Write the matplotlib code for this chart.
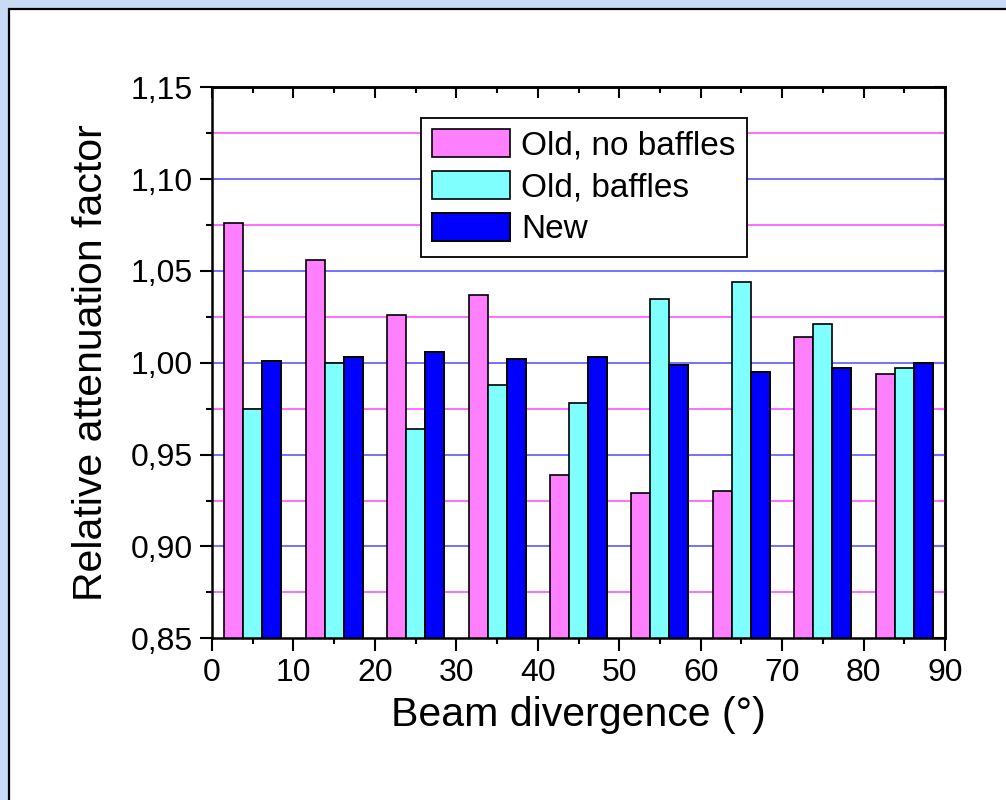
import matplotlib
matplotlib.use("Agg")
import matplotlib.pyplot as plt
import numpy as np
from matplotlib.patches import Rectangle
from matplotlib.ticker import MultipleLocator, FuncFormatter

plt.rcParams["font.family"] = ["Liberation Sans", "DejaVu Sans"]

# data
angles = [5, 15, 25, 35, 45, 55, 65, 75, 85]
old_no_baffles = [1.076, 1.056, 1.026, 1.037, 0.939, 0.929, 0.930, 1.014, 0.994]
old_baffles = [0.975, 1.000, 0.964, 0.988, 0.978, 1.035, 1.044, 1.021, 0.997]
new = [1.001, 1.003, 1.006, 1.002, 1.003, 0.999, 0.995, 0.997, 1.000]
series_names = ["Old, no baffles", "Old, baffles", "New"]
series_colors = ["#ff80ff", "#80ffff", "#0000ff"]

major_grid = [0.90, 0.95, 1.00, 1.05, 1.10]
minor_grid = [0.875, 0.925, 0.975, 1.025, 1.075, 1.125]

fig = plt.figure(figsize=(10.06, 8), dpi=100, facecolor="#c9daf6")
# white slide panel with black left/top border
fig.patches.append(Rectangle((9 / 1006, -0.1), 1.2, 0.1 + 791 / 800,
                             transform=fig.transFigure, facecolor="white",
                             edgecolor="black", linewidth=1.6, zorder=-10))

ax = fig.add_axes([212 / 1006, 1 - 638.3 / 800, 733 / 1006, 551 / 800])
ax.set_zorder(5)

for y in major_grid:
    ax.axhline(y, color="#7272ff", lw=1.4, zorder=1)
for y in minor_grid:
    ax.axhline(y, color="#ff6cff", lw=1.4, zorder=1)

w = 7 / 3
x = np.array(angles, dtype=float)
for i, (vals, name, col) in enumerate(zip([old_no_baffles, old_baffles, new],
                                          series_names, series_colors)):
    ax.bar(x + (i - 1) * w, vals, width=w, color=col, edgecolor="black",
           linewidth=1.4 if i == 2 else 1.2, label=name, zorder=2)

ax.set_xlim(0, 90)
ax.set_ylim(0.85, 1.15)
ax.xaxis.set_major_locator(MultipleLocator(10))
ax.xaxis.set_minor_locator(MultipleLocator(5))
ax.yaxis.set_major_locator(MultipleLocator(0.05))
ax.yaxis.set_minor_locator(MultipleLocator(0.025))
ax.yaxis.set_major_formatter(FuncFormatter(lambda v, p: f"{v:.2f}".replace(".", ",")))

ax.tick_params(which="major", direction="out", length=9, width=1.5,
               labelsize=23, pad=5)
ax.tick_params(which="minor", direction="out", length=4.5, width=1.5)
for s in ax.spines.values():
    s.set_linewidth(1.8)

top = ax.secondary_xaxis("top")
top.xaxis.set_major_locator(MultipleLocator(10))
top.xaxis.set_minor_locator(MultipleLocator(5))
top.tick_params(which="major", direction="in", length=8, width=1.5, labeltop=False)
top.tick_params(which="minor", direction="in", length=4.5, width=1.5)
top.spines["top"].set_linewidth(1.8)

right = ax.secondary_yaxis("right")
right.yaxis.set_major_locator(MultipleLocator(0.05))
right.yaxis.set_minor_locator(MultipleLocator(0.025))
right.tick_params(which="major", direction="in", length=8, width=1.5, labelright=False)
right.tick_params(which="minor", direction="in", length=4.5, width=1.5)
right.spines["right"].set_linewidth(1.8)

ax.set_xlabel("Beam divergence (°)", fontsize=29.5, labelpad=6)
ax.set_ylabel("Relative attenuation factor", fontsize=29.5, labelpad=15)

leg = ax.legend(loc="upper left", bbox_to_anchor=(0.285, 0.945),
                borderaxespad=0, fontsize=24, handlelength=2.33,
                handleheight=0.9, labelspacing=0.29, handletextpad=0.33,
                borderpad=0.34, fancybox=False, framealpha=1)
leg.get_frame().set_edgecolor("black")
leg.get_frame().set_linewidth(1.3)

fig.savefig("out.png", dpi=100, facecolor=fig.get_facecolor())
